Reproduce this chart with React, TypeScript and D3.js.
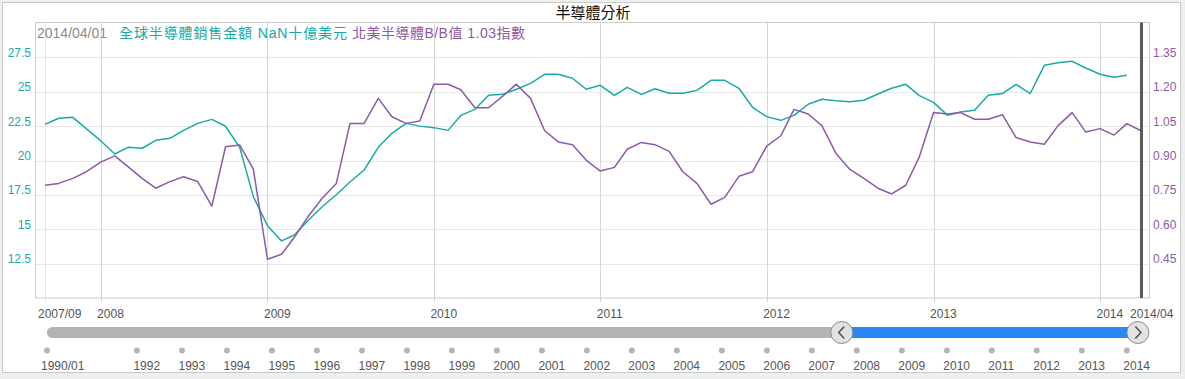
import React from 'react';
import * as d3 from 'd3';

const W = 1185;
const H = 379;

// ---- data ----
const startMonth = new Date(2007, 8, 1); // 2007/09
const endMonth = new Date(2014, 3, 1); // 2014/04
const monthDates: Date[] = d3.timeMonth.range(startMonth, d3.timeMonth.offset(endMonth, 1));

// 全球半導體銷售金額 (十億美元)
const salesValues: (number | null)[] = [
  22.63, 23.07, 23.14, 22.3,
  21.44, 20.47, 20.96, 20.89, 21.47, 21.61, 22.19, 22.7, 22.99, 22.49, 20.96, 17.37,
  15.26, 14.15, 14.58, 15.67, 16.64, 17.51, 18.44, 19.31, 20.96, 21.98, 22.7, 22.5,
  22.39, 22.19, 23.28, 23.72, 24.74, 24.81, 25.18, 25.61, 26.27, 26.27, 25.98, 25.18,
  25.47, 24.74, 25.32, 24.81, 25.22, 24.89, 24.89, 25.1, 25.83, 25.83, 25.25, 23.87,
  23.19, 22.92, 23.28, 24.09, 24.45, 24.35, 24.28, 24.38, 24.84, 25.25, 25.54, 24.72,
  24.23, 23.28, 23.53, 23.65, 24.74, 24.87, 25.54, 24.87, 26.92, 27.11, 27.21, 26.73,
  26.27, 26.05, 26.2, null,
];

// 北美半導體B/B值 (指數)
const bbValues: number[] = [
  0.792, 0.8, 0.822, 0.851,
  0.893, 0.92, 0.873, 0.822, 0.779, 0.808, 0.829, 0.808, 0.701, 0.96, 0.968, 0.862,
  0.469, 0.491, 0.565, 0.658, 0.735, 0.8, 1.062, 1.062, 1.171, 1.091, 1.062, 1.072,
  1.233, 1.233, 1.209, 1.13, 1.13, 1.181, 1.233, 1.171, 1.03, 0.981, 0.969, 0.902,
  0.854, 0.87, 0.949, 0.979, 0.969, 0.94, 0.851, 0.8, 0.709, 0.739, 0.831, 0.851,
  0.963, 1.008, 1.123, 1.103, 1.052, 0.931, 0.862, 0.822, 0.779, 0.754, 0.792, 0.917,
  1.109, 1.103, 1.109, 1.08, 1.08, 1.1, 1.0, 0.981, 0.971, 1.052, 1.109, 1.024,
  1.039, 1.011, 1.061, 1.03,
];

const leftTicks = [12.5, 15, 17.5, 20, 22.5, 25, 27.5];
const rightTicks = [0.45, 0.6, 0.75, 0.9, 1.05, 1.2, 1.35];
const yearTickLabels = ['2008', '2009', '2010', '2011', '2012', '2013', '2014'];
const sliderYearLabels = ['1992', '1993', '1994', '1995', '1996', '1997', '1998', '1999', '2000', '2001',
  '2002', '2003', '2004', '2005', '2006', '2007', '2008', '2009', '2010', '2011', '2012', '2013', '2014'];

const titleText = '半導體分析';
const legendDate = '2014/04/01';
const legendSales = '全球半導體銷售金額 NaN十億美元';
const legendBB = '北美半導體B/B值 1.03指數';

// ---- style ----
const TEAL = '#17aba6';
const PURPLE = '#8c5aa8';
const LABEL_FONT = '"Liberation Sans", Arial, sans-serif';
const CJK_FONT = '"Liberation Sans", "Noto Sans CJK TC", sans-serif';

const plot = { left: 35.5, right: 1149.5, top: 22.5, bottom: 298 };

export default function App() {
  const x = d3.scaleTime().domain([startMonth, endMonth]).range([45, 1141]);
  const yL = d3.scaleLinear().domain([10, 30]).range([plot.bottom, plot.top + 0.5]);
  const yR = d3.scaleLinear().domain([0.3, 1.5]).range([plot.bottom, plot.top + 0.5]);

  const salesLine = d3.line<number | null>()
    .defined((d) => d != null)
    .x((_, i) => x(monthDates[i]))
    .y((d) => yL(d as number));
  const bbLine = d3.line<number>()
    .x((_, i) => x(monthDates[i]))
    .y((d) => yR(d));

  const yearDates = yearTickLabels.map((s) => new Date(+s, 0, 1));

  // slider
  const sx = d3.scaleTime().domain([new Date(1990, 0, 1), new Date(2014, 0, 1)]).range([47, 1126.8]);
  const sliderY = 332.5;
  const selStart = sx(startMonth);
  const selEnd = sx(endMonth);
  const dotY = 350.5;
  const sliderDates = sliderYearLabels.map((s) => new Date(+s, 0, 1));

  return (
    <svg width={W} height={H} style={{ position: 'absolute', left: 0, top: 0, display: 'block' }}>
      <rect x={0} y={0} width={W} height={H} fill="#eef0f0" />
      <rect x={2.5} y={2.5} width={1178} height={370} fill="#ffffff" stroke="#c8c8c8" />

      {/* title */}
      <text x={593} y={18} textAnchor="middle" fontSize={15} fontFamily='"Noto Sans CJK TC", sans-serif' fill="#111">{titleText}</text>

      {/* horizontal grid */}
      {leftTicks.map((t) => (
        <line key={'hg' + t} x1={plot.left} x2={plot.right} y1={Math.round(yL(t)) + 0.5} y2={Math.round(yL(t)) + 0.5} stroke="#e8e8e8" />
      ))}
      {/* vertical grid */}
      <line x1={Math.round(x(startMonth)) + 0.5} x2={Math.round(x(startMonth)) + 0.5} y1={plot.top} y2={plot.bottom + 4} stroke="#d3ecf3" />
      {yearDates.map((d, i) => (
        <line key={'vg' + i} x1={Math.round(x(d)) + 0.5} x2={Math.round(x(d)) + 0.5} y1={plot.top} y2={plot.bottom + 4} stroke="#d6d6d6" />
      ))}
      {/* plot frame */}
      <rect x={plot.left} y={plot.top} width={plot.right - plot.left} height={plot.bottom - plot.top} fill="none" stroke="#cccccc" />

      {/* legend */}
      <text x={37} y={38} fontSize={14} fontFamily={LABEL_FONT} fill="#8a8a8a">{legendDate}</text>
      <text x={119} y={38} fontSize={14} fontFamily={CJK_FONT} fill={TEAL} textLength={228} lengthAdjust="spacing">{legendSales}</text>
      <text x={352} y={38} fontSize={14} fontFamily={CJK_FONT} fill={PURPLE} textLength={173} lengthAdjust="spacing">{legendBB}</text>

      {/* lines */}
      <path d={salesLine(salesValues) || ''} fill="none" stroke={TEAL} strokeWidth={1.5} strokeLinejoin="round" />
      <path d={bbLine(bbValues) || ''} fill="none" stroke={PURPLE} strokeWidth={1.5} strokeLinejoin="round" />

      {/* current marker */}
      <line x1={x(endMonth) + 0.5} x2={x(endMonth) + 0.5} y1={plot.top} y2={plot.bottom} stroke="#5a5a5a" strokeWidth={3} />

      {/* left axis labels */}
      {leftTicks.map((t) => (
        <text key={'l' + t} x={31} y={yL(t) - 0.5} textAnchor="end" fontSize={12} fontFamily={LABEL_FONT} fill={TEAL}>{String(t)}</text>
      ))}
      {/* right axis labels */}
      {rightTicks.map((t) => (
        <text key={'r' + t} x={1153} y={yR(t) - 0.5} fontSize={12} fontFamily={LABEL_FONT} fill={PURPLE}>{t.toFixed(2)}</text>
      ))}

      {/* bottom axis labels */}
      <text x={x(startMonth) - 7} y={318} fontSize={12} fontFamily={LABEL_FONT} fill="#555">2007/09</text>
      {yearDates.map((d, i) => (
        <text key={'xl' + i} x={x(d) - 3.5} y={318} fontSize={12} fontFamily={LABEL_FONT} fill="#555">{yearTickLabels[i]}</text>
      ))}
      <text x={x(endMonth) - 11} y={318} fontSize={12} fontFamily={LABEL_FONT} fill="#555">2014/04</text>

      {/* slider */}
      <rect x={sx(new Date(1990, 0, 1))} y={sliderY - 5.5} width={selEnd - sx(new Date(1990, 0, 1))} height={11} rx={5.5} fill="#b3b3b3" />
      <rect x={selStart} y={sliderY - 5.5} width={selEnd - selStart} height={11} fill="#2a86f3" />
      {[selStart, selEnd].map((cx, i) => (
        <g key={'h' + i}>
          <circle cx={cx} cy={sliderY} r={11} fill="#e2e2e2" stroke="#8a8a8a" strokeWidth={1} />
          <path d={i === 0 ? `M${cx + 2.5},${sliderY - 6} L${cx - 3},${sliderY} L${cx + 2.5},${sliderY + 6}` : `M${cx - 2.5},${sliderY - 6} L${cx + 3},${sliderY} L${cx - 2.5},${sliderY + 6}`}
            fill="none" stroke="#555" strokeWidth={1.6} />
        </g>
      ))}
      <circle cx={sx(new Date(1990, 0, 1))} cy={dotY} r={3} fill="#b5b5b5" />
      <text x={sx(new Date(1990, 0, 1)) - 6} y={370} fontSize={12} fontFamily={LABEL_FONT} fill="#555">1990/01</text>
      {sliderDates.map((d, i) => (
        <g key={'sd' + i}>
          <circle cx={sx(d)} cy={dotY} r={3} fill="#b5b5b5" />
          <text x={sx(d) - 3.5} y={370} fontSize={12} fontFamily={LABEL_FONT} fill="#555">{sliderYearLabels[i]}</text>
        </g>
      ))}
    </svg>
  );
}
